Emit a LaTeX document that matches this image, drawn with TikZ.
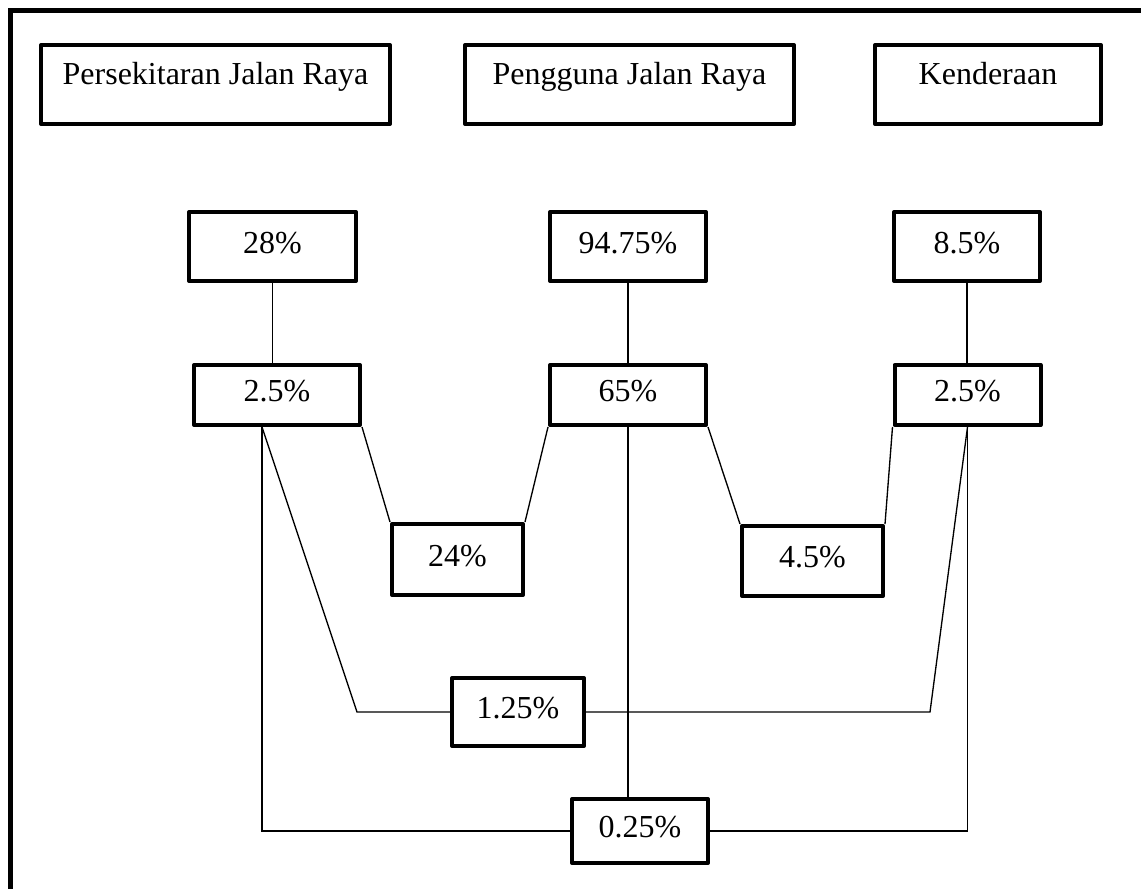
\documentclass[tikz,border=0pt]{standalone}
\usepackage{fontspec}
\setmainfont{Liberation Serif}
\usepackage{tikz}

\tikzset{
  titlebox/.style={draw, line width=3pt, line join=round, inner sep=0pt, minimum height=59.25pt, text height=12pt, text depth=12pt, font=\fontsize{24}{28}\selectfont},
  pctbox/.style={draw, line width=3pt, line join=round, inner sep=0pt, text height=16pt, text depth=6pt, font=\fontsize{24}{28}\selectfont},
  link/.style={line width=1pt}
}

\begin{document}
\begin{tikzpicture}[x=0.75pt,y=0.75pt,yscale=-1,xscale=1]
\useasboundingbox (0,0) rectangle (1141,888);

%Shape: Frame
\draw [line width=3.75pt] (10.5,900) -- (10.5,10.5) -- (1160,10.5) ;

% Title Nodes
\node [titlebox, minimum width=261.75pt] (per) at (215.5,84.5) {Persekitaran Jalan Raya};
\node [titlebox, minimum width=246.75pt] (pgg) at (629.5,84.5) {Pengguna Jalan Raya};
\node [titlebox, minimum width=169.5pt] (ken) at (988,84.5) {Kenderaan};

% Percent Nodes
\node [pctbox, minimum width=125.25pt, minimum height=51.75pt] (p28) at (272.5,246.5) {28\%};
\node [pctbox, minimum width=117pt, minimum height=51.75pt] (p9475) at (628,246.5) {94.75\%};
\node [pctbox, minimum width=109.5pt, minimum height=51.75pt] (p85) at (967,246.5) {8.5\%};
\node [pctbox, minimum width=124.5pt, minimum height=45pt] (m25) at (277,395) {2.5\%};
\node [pctbox, minimum width=117pt, minimum height=45pt] (m65) at (628,395) {65\%};
\node [pctbox, minimum width=109.5pt, minimum height=45pt] (r25) at (967.5,395) {2.5\%};
\node [pctbox, minimum width=98.25pt, minimum height=53.25pt] (p24) at (457.5,559.5) {24\%};
\node [pctbox, minimum width=105.75pt, minimum height=52.5pt] (p45) at (812.5,561) {4.5\%};
\node [pctbox, minimum width=99pt, minimum height=51pt] (p125) at (518,712) {1.25\%};
\node [pctbox, minimum width=102pt, minimum height=48pt] (p025) at (640,831) {0.25\%};

% Bend points
\coordinate (mlb) at ([xshift=-11.25pt]m25.south);
\coordinate (kl) at (357,712);
\coordinate (kr) at (930,712);

%Straight Lines
\draw [link] (p28.south) -- (p28.south |- m25.north) ;
\draw [link] (p9475.south) -- (m65.north) ;
\draw [link] (p85.south) -- (p85.south |- r25.north) ;
\draw [link] (m25.south east) -- (p24.north west) ;
\draw [link] (m65.south west) -- (p24.north east) ;
\draw [link] (m65.south east) -- (p45.north west) ;
\draw [link] (r25.south west) -- (p45.north east) ;
\draw [link] (mlb) -- (kl) -- (p125.west) ;
\draw [link] (r25.south) -- (kr) -- (p125.east) ;
\draw [link] (mlb) |- (p025.west) ;
\draw [link] (r25.south) |- (p025.east) ;
\draw [link] (m65.south) -- (m65.south |- p025.north) ;

\end{tikzpicture}
\end{document}
